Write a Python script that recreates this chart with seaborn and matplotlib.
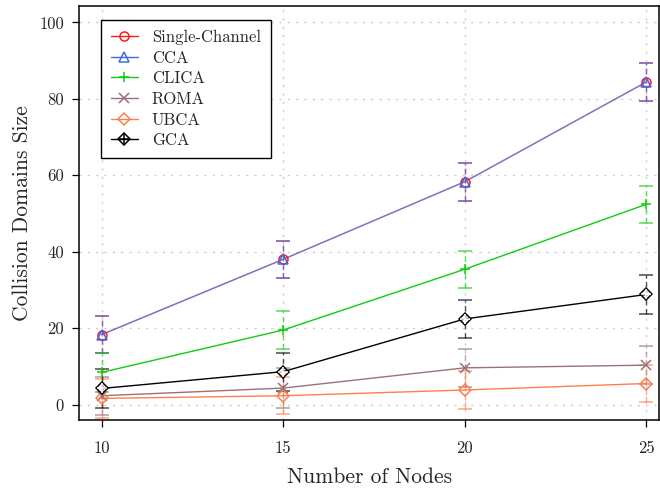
import matplotlib
matplotlib.use("Agg")
import matplotlib.pyplot as plt
from matplotlib.lines import Line2D
from matplotlib.legend_handler import HandlerTuple
import seaborn as sns

# Mean collision-domain size per scheme, with the spread shown as error bars
nodes = [10, 15, 20, 25]

single_channel = [18.3, 38.0, 58.3, 84.4]
single_channel_err = [4.9, 4.9, 5.0, 5.0]

cca = [18.3, 38.0, 58.3, 84.4]
cca_err = [4.9, 4.9, 5.0, 5.0]

clica = [8.4, 19.5, 35.4, 52.4]
clica_err = [5.0, 5.0, 4.9, 4.8]

roma = [2.3, 4.3, 9.6, 10.3]
roma_err = [5.0, 5.2, 5.0, 5.0]

ubca = [1.6, 2.3, 3.8, 5.5]
ubca_err = [5.1, 4.9, 5.0, 4.8]

gca = [4.2, 8.6, 22.4, 28.8]
gca_err = [5.0, 5.0, 4.9, 5.0]

x_ticks = [10, 15, 20, 25]
y_ticks = [0, 20, 40, 60, 80, 100]

sns.set_theme(style="white")
plt.rcParams["font.family"] = ["cmr10", "DejaVu Serif"]
plt.rcParams["axes.formatter.use_mathtext"] = True
plt.rcParams["mathtext.fontset"] = "cm"

fig = plt.figure(figsize=(6.6, 4.91), dpi=100)
ax = fig.add_axes([0.120, 0.1446, 0.8785, 0.8432])

# name, values, errors, colour, marker, marker size, line alpha
series = [
    ("Single-Channel", single_channel, single_channel_err, "#ff1a1a", "o", 6.5, 0.5),
    ("CCA", cca, cca_err, "#4169e1", "^", 7, 0.7),
    ("CLICA", clica, clica_err, "#11cc11", "+", 7.5, 1.0),
    ("ROMA", roma, roma_err, "#987276", "x", 6.5, 1.0),
    ("UBCA", ubca, ubca_err, "#ff7f4a", "D", 6, 1.0),
    ("GCA", gca, gca_err, "#000000", "D", 6.5, 1.0),
]

# error bars underneath the curves, dashed stems with solid caps
for name, vals, err, color, marker, ms, alpha in series:
    eb = ax.errorbar(nodes, vals, yerr=err, fmt="none", ecolor=color,
                     elinewidth=1.0, capsize=5, capthick=1.2, alpha=0.65,
                     zorder=2)
    eb[2][0].set_linestyle((0, (4, 2.5)))

handles = []
for name, vals, err, color, marker, ms, alpha in series:
    # connecting line
    sns.lineplot(x=nodes, y=vals, ax=ax, color=color, linewidth=1.0,
                 alpha=alpha, zorder=3)
    # open markers at full strength
    sns.lineplot(x=nodes, y=vals, ax=ax, color=color, marker=marker,
                 markersize=ms, markerfacecolor="none",
                 markeredgecolor=color, markeredgewidth=1.1,
                 linestyle="none", zorder=4)
    proxy = Line2D([], [], color=color, linewidth=1.0, marker=marker,
                   markersize=ms, markerfacecolor="none",
                   markeredgecolor=color, markeredgewidth=1.1)
    if name == "GCA":
        sns.lineplot(x=nodes, y=vals, ax=ax, color=color, marker="+",
                     markersize=7, linestyle="none", markeredgewidth=1.1,
                     zorder=5)
        cross = Line2D([], [], color=color, linestyle="none", marker="+",
                       markersize=7, markeredgewidth=1.1)
        handles.append((proxy, cross))
    else:
        handles.append(proxy)

ax.set_xlim(9.383, 25.35)
ax.set_ylim(-4.05, 104.3)
ax.set_xticks(x_ticks)
ax.set_yticks(y_ticks)
ax.set_xticklabels([str(t) for t in x_ticks])
ax.set_yticklabels([str(t) for t in y_ticks])

ax.grid(True, color="#cccccc", linestyle=(0, (1.5, 4.5)), linewidth=1.0)
ax.set_axisbelow(True)

for sp in ax.spines.values():
    sp.set_color("black")
    sp.set_linewidth(1.1)

ax.tick_params(axis="both", which="major", direction="out", length=5,
               width=0.9, color="black", labelsize=12,
               bottom=True, left=True, top=False, right=False)
ax.tick_params(axis="x", pad=10)
ax.tick_params(axis="y", pad=6)

ax.set_xlabel("Number of Nodes", fontsize=15.5, labelpad=8)
ax.set_ylabel("Collision Domains Size", fontsize=15.5, labelpad=5)

labels = [s[0] for s in series]
leg = ax.legend(handles, labels, loc="upper left",
                bbox_to_anchor=(0.0375, 0.967), borderaxespad=0,
                fontsize=12, frameon=True, fancybox=False, framealpha=1,
                edgecolor="black", handlelength=1.6, handletextpad=0.85,
                labelspacing=0.32, borderpad=0.6,
                handler_map={tuple: HandlerTuple(ndivide=1, pad=0)})
leg.get_frame().set_linewidth(1.0)
leg.set_zorder(6)

fig.savefig("out.png", dpi=100)
